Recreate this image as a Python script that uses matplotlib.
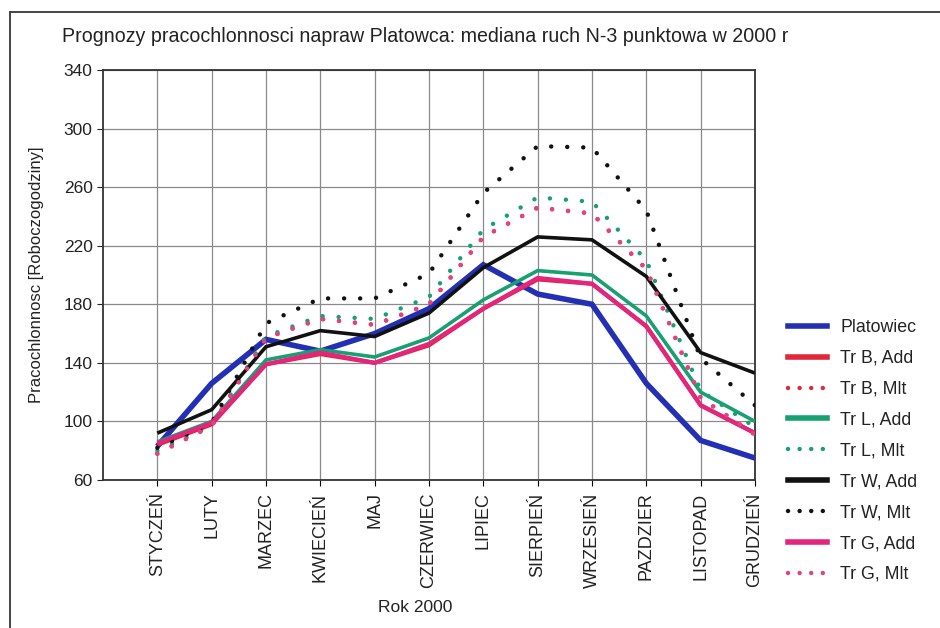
import matplotlib
matplotlib.use("Agg")
import matplotlib.pyplot as plt
from matplotlib.lines import Line2D

plt.rcParams['font.family'] = ['Liberation Sans', 'DejaVu Sans']

months = ["STYCZEŃ", "LUTY", "MARZEC", "KWIECIEŃ", "MAJ", "CZERWIEC",
          "LIPIEC", "SIERPIEŃ", "WRZESIEŃ", "PAZDZIER", "LISTOPAD", "GRUDZIEŃ"]

platowiec = [83, 126, 156, 148, 160, 177, 207, 187, 180, 126, 87, 75]
tr_b_add = [84, 98, 139, 146, 140, 152, 177, 197, 194, 165, 111, 92]
tr_b_mlt = [78, 97, 157, 170, 166, 180, 226, 246, 242, 204, 116, 91]
tr_l_add = [86, 100, 142, 149, 144, 157, 183, 203, 200, 172, 120, 100]
tr_l_mlt = [80, 97, 158, 172, 170, 185, 231, 253, 250, 210, 121, 96]
tr_w_add = [92, 108, 151, 162, 158, 174, 205, 226, 224, 199, 147, 133]
tr_w_mlt = [82, 99, 167, 184, 184, 201, 256, 288, 287, 244, 143, 111]
tr_g_add = [85, 99, 139, 147, 140, 153, 177, 198, 194, 165, 111, 92]
tr_g_mlt = [78, 97, 157, 170, 166, 180, 226, 246, 242, 204, 116, 91]

y_ticks = [60, 100, 140, 180, 220, 260, 300, 340]

BLUE = "#2430b4"
RED = "#e0283a"
GREEN = "#17a070"
BLACK = "#111111"
MAGENTA = "#e3257e"
PINK = "#e8407f"

fig = plt.figure(figsize=(9.4, 6.28), dpi=100)
ax = fig.add_axes([103 / 940, 1 - 480 / 628, (755 - 103) / 940, (480 - 70) / 628])

x = list(range(len(months)))
dot = (0, (0.01, 3.6))

series = [
    ("Platowiec", platowiec, BLUE, "-", 4.0),
    ("Tr B, Add", tr_b_add, RED, "-", 3.0),
    ("Tr B, Mlt", tr_b_mlt, RED, dot, 3.2),
    ("Tr L, Add", tr_l_add, GREEN, "-", 2.6),
    ("Tr L, Mlt", tr_l_mlt, GREEN, dot, 3.2),
    ("Tr W, Add", tr_w_add, BLACK, "-", 2.6),
    ("Tr W, Mlt", tr_w_mlt, BLACK, dot, 3.2),
    ("Tr G, Add", tr_g_add, MAGENTA, "-", 3.0),
    ("Tr G, Mlt", tr_g_mlt, PINK, dot, 3.2),
]

for label, vals, color, ls, lw in series:
    ax.plot(x, vals, color=color, linestyle=ls, linewidth=lw,
            dash_capstyle="round", solid_capstyle="butt",
            solid_joinstyle="miter", label=label, zorder=3)

ax.set_xlim(-1, 11)
ax.set_ylim(60, 340)
ax.set_yticks(y_ticks)
ax.set_xticks(x)
ax.set_xticklabels(months, rotation=90, fontsize=13, color="#222222")
ax.tick_params(axis="y", labelsize=12.5, colors="#222222", length=4, direction="out")
ax.tick_params(axis="x", length=4, direction="out", pad=5)
ax.grid(True, color="#8a8a8a", linewidth=0.9)
ax.set_axisbelow(True)
for s in ax.spines.values():
    s.set_color("#333333")
    s.set_linewidth(1.3)

ax.set_ylabel("Pracochlonnosc [Roboczogodziny]", fontsize=12, color="#222222", labelpad=14)
fig.text(415 / 940, 1 - 608 / 628, "Rok 2000", fontsize=12.5, ha="center", va="center",
         color="#222222")
fig.text(62 / 940, 1 - 37 / 628,
         "Prognozy pracochlonnosci napraw Platowca: mediana ruch N-3 punktowa w 2000 r",
         fontsize=14.1, ha="left", va="center", color="#222222")

leg_handles = []
for label, vals, color, ls, lw in series:
    if ls == "-":
        leg_handles.append(Line2D([], [], color=color, linestyle="-", linewidth=4.0))
    else:
        leg_handles.append(Line2D([], [], color=color, linestyle=(0, (0.01, 2.6)),
                                  linewidth=3.2, dash_capstyle="round"))
leg = fig.legend(leg_handles, [s[0] for s in series], loc="upper left",
                 bbox_to_anchor=(772 / 940, 1 - 303 / 628), frameon=False,
                 fontsize=12.8, handlelength=2.2, handletextpad=0.75,
                 labelspacing=0.78)
for t in leg.get_texts():
    t.set_color("#222222")

# outer frame of the figure panel
fig.add_artist(Line2D([10 / 940, 10 / 940], [0, 1 - 12 / 628], transform=fig.transFigure,
                      color="#444444", linewidth=1.4))
fig.add_artist(Line2D([10 / 940, 1], [1 - 12 / 628, 1 - 12 / 628], transform=fig.transFigure,
                      color="#444444", linewidth=1.4))

fig.savefig("out.png", dpi=100)
